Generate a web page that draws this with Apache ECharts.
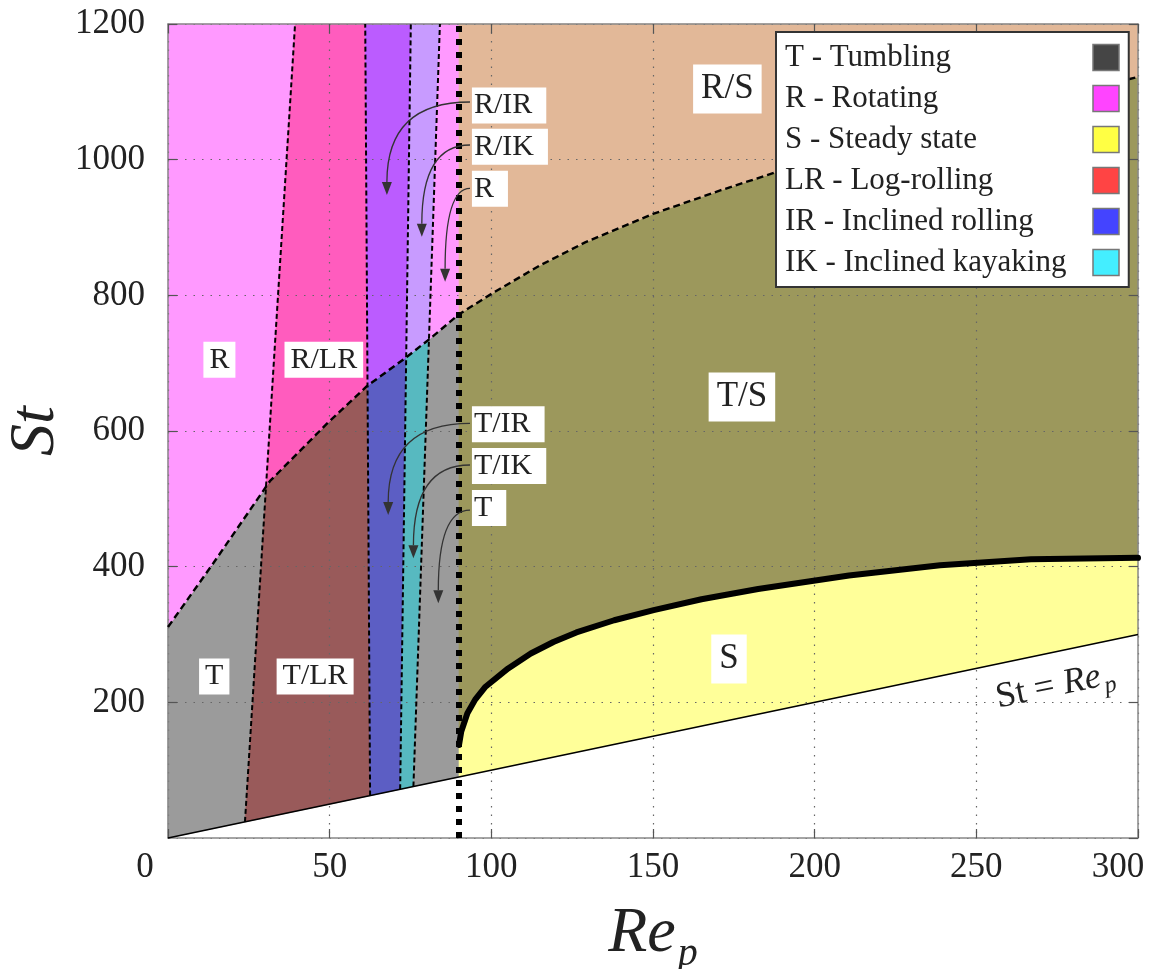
<!DOCTYPE html>
<html><head><meta charset="utf-8">
<script src="https://cdn.jsdelivr.net/npm/echarts@6/dist/echarts.min.js"></script>
<style>html,body{margin:0;padding:0;background:#fff;}#c{width:1169px;height:969px;}</style>
</head><body><div id="c"></div>
<script>
// ---------- data (Re_p, St) ----------
const xTicks = [0, 50, 100, 150, 200, 250, 300];
const yTicks = [0, 200, 400, 600, 800, 1000, 1200];

const reLine = [[0, 0], [300, 300]];              // St = Re_p
const topLine = [[0, 1200], [300, 1200]];
const rtCurve = [[0, 311], [14, 405], [31.5, 526], [49, 610], [61.5, 666], [73.8, 709], [81, 736], [90, 772],
  [101, 805], [115, 844], [129, 878], [150, 920], [171, 955], [189, 983], [200, 999], [250, 1064], [300, 1122]];
const sCurve = [[90, 137], [90.7, 157], [92.6, 184], [95, 204], [98.2, 223], [105.2, 250], [112.2, 272], [119.2, 289],
  [126.3, 303], [138, 321], [150.2, 336], [165, 352], [182.5, 367], [210.6, 387], [238.8, 402], [266.9, 411], [300, 413]];
const criticalRe = 90;
// dividers: Re_p where they meet St = Re_p, and Re_p at St = 1200
const dividerBottom = [23.8, 62.5, 71.8, 75.9];
const dividerTop = [39.3, 61, 75.1, 84.1];

const legendNames = ['T - Tumbling', 'R - Rotating', 'S - Steady state', 'LR - Log-rolling', 'IR - Inclined rolling', 'IK - Inclined kayaking'];
const legendColors = ['#454545', '#ff44ff', '#ffff44', '#ff4444', '#4444ff', '#44eeff'];

const regionNames = ['T', 'R', 'T/LR', 'R/LR', 'T/IR', 'R/IR', 'T/IK', 'R/IK', 'T', 'R', 'S', 'T/S', 'R/S'];
const regionColors = ['#9b9b9b', '#ff99ff', '#995a5a', '#ff5cbe', '#5c5ec4', '#bb5cff', '#57b9c0', '#c89bff',
  '#9b9b9b', '#ff99ff', '#ffff99', '#9c985c', '#e2b898'];

const labelTexts = ['R', 'R/LR', 'T', 'T/LR', 'R/S', 'T/S', 'S'];
const labelAnchors = [[15.9, 705], [48.2, 705], [14.3, 238], [45.5, 238], [173, 1104], [177.5, 650], [173.5, 264]];
const labelBig = [false, false, false, false, true, true, true];

const arrowTexts = ['R/IR', 'R/IK', 'R', 'T/IR', 'T/IK', 'T'];
const arrowFrom = [[93.4, 1085], [93.4, 1021.6], [93.4, 957.8], [93.4, 611.3], [93.4, 549.9], [93.4, 483.5]];
const arrowTo = [[67.7, 948], [78.5, 886.4], [85.7, 820.1], [68.1, 476.2], [75.9, 412.3], [83.6, 346]];
const arrowLabelAnchors = [[94, 1080], [94, 1019], [94, 957], [94, 610], [94, 548.5], [94, 486.5]];

const lineLabelAnchor = [274.4, 224];

// ---------- geometry helpers ----------
function interp(pts, x) {
  if (x <= pts[0][0]) return pts[0][1];
  for (let i = 1; i < pts.length; i++) {
    if (x <= pts[i][0]) {
      const a = pts[i - 1], b = pts[i];
      return a[1] + (b[1] - a[1]) * (x - a[0]) / (b[0] - a[0]);
    }
  }
  return pts[pts.length - 1][1];
}
const yMax = yTicks[yTicks.length - 1];
function mkDiv(b, t) { return { b: b, t: t }; }
function xOn(d, s) { return d.b + (d.t - d.b) * (s - d.b) / (yMax - d.b); }
function solve(d, pts) {
  let s = interp(pts, d.b);
  for (let k = 0; k < 80; k++) s = interp(pts, xOn(d, s));
  return s;
}
function regionPoly(L, R, lower, upper) {
  const sl0 = solve(L, lower), xl0 = xOn(L, sl0);
  const sr0 = solve(R, lower), xr0 = xOn(R, sr0);
  const sl1 = solve(L, upper), xl1 = xOn(L, sl1);
  const sr1 = solve(R, upper), xr1 = xOn(R, sr1);
  const p = [[xl0, sl0]];
  lower.forEach(v => { if (v[0] > xl0 && v[0] < xr0) p.push(v); });
  p.push([xr0, sr0], [xr1, sr1]);
  upper.slice().reverse().forEach(v => { if (v[0] > xl1 && v[0] < xr1) p.push(v); });
  p.push([xl1, sl1]);
  return p;
}
const divs = [mkDiv(xTicks[0], xTicks[0])];
dividerBottom.forEach((b, i) => divs.push(mkDiv(b, dividerTop[i])));
divs.push(mkDiv(criticalRe, criticalRe));
divs.push(mkDiv(xTicks[xTicks.length - 1], xTicks[xTicks.length - 1]));

const regionPolys = [];
for (let i = 0; i < 5; i++) {
  regionPolys.push(regionPoly(divs[i], divs[i + 1], reLine, rtCurve));
  regionPolys.push(regionPoly(divs[i], divs[i + 1], rtCurve, topLine));
}
regionPolys.push(regionPoly(divs[5], divs[6], reLine, sCurve));
regionPolys.push(regionPoly(divs[5], divs[6], sCurve, rtCurve));
regionPolys.push(regionPoly(divs[5], divs[6], rtCurve, topLine));

// ---------- chart ----------
const F = "Liberation Serif, DejaVu Serif, serif";
const TXT = '#222';
const chart = echarts.init(document.getElementById('c'), null, { renderer: 'canvas' });

const baseAxis = {
  type: 'value', z: 3,
  axisLine: { show: true, onZero: false, lineStyle: { color: '#888', width: 1.5 } },
  axisTick: { show: true, inside: true, length: 9, lineStyle: { color: '#555', width: 1.2 } }
};

const lineSeries = [];
function addLine(data, style, z) {
  lineSeries.push({ type: 'line', data: data, showSymbol: false, symbol: 'none', z: z || 4, silent: true,
    smooth: false, lineStyle: style, animation: false, clip: false });
}
addLine(reLine, { color: '#000', width: 1.6, type: 'solid' });
dividerBottom.forEach((b, i) => addLine([[b, b], [dividerTop[i], yMax]], { color: '#000', width: 2, type: [5, 3] }));
addLine(rtCurve, { color: '#000', width: 2.4, type: [7, 4] });
addLine(sCurve, { color: '#000', width: 6, type: 'solid', cap: 'round', join: 'round' });
addLine([[criticalRe, yTicks[0]], [criticalRe, yMax]], { color: '#000', width: 6, type: [6, 7] }, 5);

const option = {
  animation: false,
  backgroundColor: '#fff',
  grid: { left: 168, top: 24, width: 970, height: 814, containLabel: false, outerBoundsMode: 'none' },
  xAxis: [
    Object.assign({}, baseAxis, {
      min: xTicks[0], max: xTicks[xTicks.length - 1], interval: xTicks[1] - xTicks[0], position: 'bottom',
      splitLine: { show: true, lineStyle: { color: '#666', type: [1.5, 7], width: 1.2 } },
      axisLabel: {
        fontFamily: F, fontSize: 35, color: TXT, margin: 12,
        formatter: v => v === xTicks[0] ? '{l|' + v + '}' : (v === xTicks[xTicks.length - 1] ? '{r|' + v + '}' : String(v)),
        rich: {
          l: { fontFamily: F, fontSize: 35, color: TXT, padding: [0, 46, 0, 0] },
          r: { fontFamily: F, fontSize: 35, color: TXT, padding: [0, 40, 0, 0] }
        }
      },
      name: '{a|Re}{b|p}', nameLocation: 'middle', nameGap: 56, nameMoveOverlap: false,
      nameTextStyle: {
        rich: {
          a: { fontFamily: F, fontStyle: 'italic', fontSize: 64, color: TXT },
          b: { fontFamily: F, fontStyle: 'italic', fontSize: 40, color: TXT, padding: [40, 0, 0, 2] }
        }
      }
    }),
    Object.assign({}, baseAxis, {
      min: xTicks[0], max: xTicks[xTicks.length - 1], interval: xTicks[1] - xTicks[0], position: 'top',
      splitLine: { show: false }, axisLabel: { show: false }
    })
  ],
  yAxis: [
    Object.assign({}, baseAxis, {
      min: yTicks[0], max: yMax, interval: yTicks[1] - yTicks[0], position: 'left',
      splitLine: { show: true, lineStyle: { color: '#666', type: [1.5, 7], width: 1.2 } },
      axisLabel: { fontFamily: F, fontSize: 35, color: TXT, margin: 23, showMinLabel: false, formatter: v => String(v) },
      name: 'St', nameLocation: 'middle', nameGap: 100, nameRotate: 90, nameMoveOverlap: false,
      nameTextStyle: { fontFamily: F, fontStyle: 'italic', fontSize: 64, color: TXT }
    }),
    Object.assign({}, baseAxis, {
      min: yTicks[0], max: yMax, interval: yTicks[1] - yTicks[0], position: 'right',
      splitLine: { show: false }, axisLabel: { show: false }
    })
  ],
  legend: {
    orient: 'vertical', left: 776, top: 32, padding: [10, 9, 9, 9], itemGap: 10,
    itemWidth: 26, itemHeight: 26, align: 'right', icon: 'rect',
    backgroundColor: '#fff', borderColor: '#333', borderWidth: 2, borderRadius: 0,
    selectedMode: false, z: 20,
    itemStyle: { borderColor: '#777', borderWidth: 1.5, opacity: 1 },
    formatter: n => '{t|' + n + '}',
    textStyle: { fontFamily: F, fontSize: 31, color: TXT, lineHeight: 26,
      rich: { t: { fontFamily: F, fontSize: 31, color: TXT, width: 303, align: 'left', lineHeight: 26 } } },
    data: legendNames
  },
  series: [
    {
      type: 'custom', name: 'regions', z: 1, silent: true, animation: false,
      data: regionPolys.map((p, i) => [i]),
      encode: { x: 0 },
      renderItem: function (params, api) {
        const i = params.dataIndex;
        const pts = regionPolys[i].map(p => api.coord(p));
        return { type: 'polygon', shape: { points: pts },
          style: { fill: regionColors[i], stroke: regionColors[i], lineWidth: 0.6 } };
      }
    }
  ].concat(lineSeries).concat([
    {
      type: 'custom', name: 'arrows', z: 6, silent: true, animation: false,
      data: arrowFrom.map((p, i) => [i]), encode: { x: 0 },
      renderItem: function (params, api) {
        const i = params.dataIndex;
        const a = api.coord(arrowFrom[i]), b = api.coord(arrowTo[i]);
        const c = [b[0], a[1]];
        let dx = b[0] - c[0], dy = b[1] - c[1];
        const len = Math.sqrt(dx * dx + dy * dy) || 1; dx /= len; dy /= len;
        const hl = 13, hw = 5;
        const base = [b[0] - dx * hl, b[1] - dy * hl];
        return { type: 'group', children: [
          { type: 'bezierCurve', shape: { x1: a[0], y1: a[1], cpx1: c[0], cpy1: c[1], x2: base[0], y2: base[1] },
            style: { stroke: '#333', lineWidth: 1.3, fill: null } },
          { type: 'polygon', shape: { points: [b, [base[0] - dy * hw, base[1] + dx * hw], [base[0] + dy * hw, base[1] - dx * hw]] },
            style: { fill: '#333' } }
        ] };
      }
    },
    {
      type: 'custom', name: 'arrowLabels', z: 7, silent: true, animation: false,
      data: arrowTexts.map((t, i) => [i]), encode: { x: 0 },
      renderItem: function (params, api) {
        const i = params.dataIndex;
        const p = api.coord(arrowLabelAnchors[i]);
        return { type: 'text', x: p[0], y: p[1],
          style: { text: arrowTexts[i], fontFamily: F, fontSize: 30, fill: TXT, align: 'left', verticalAlign: 'middle',
            backgroundColor: '#fff', padding: [3, 14, 3, 2] } };
      }
    },
    {
      type: 'custom', name: 'regionLabels', z: 7, silent: true, animation: false,
      data: labelTexts.map((t, i) => [i]), encode: { x: 0 },
      renderItem: function (params, api) {
        const i = params.dataIndex;
        const p = api.coord(labelAnchors[i]);
        const big = labelBig[i];
        return { type: 'text', x: p[0], y: p[1],
          style: { text: labelTexts[i], fontFamily: F, fontSize: big ? 35 : 30, fill: TXT, align: 'center', verticalAlign: 'middle',
            backgroundColor: '#fff', padding: big ? [7, 8] : [3, 6] } };
      }
    },
    {
      type: 'custom', name: 'lineLabel', z: 7, silent: true, animation: false,
      data: [[0]], encode: { x: 0 },
      renderItem: function (params, api) {
        const p = api.coord(lineLabelAnchor);
        const a = api.coord(reLine[0]), b = api.coord(reLine[1]);
        const ang = Math.atan2(a[1] - b[1], b[0] - a[0]);
        return { type: 'text', x: p[0], y: p[1], rotation: ang,
          style: { text: '{n|St = }{i|Re}{s|p}', align: 'center', verticalAlign: 'middle',
            rich: {
              n: { fontFamily: F, fontSize: 36, fill: TXT },
              i: { fontFamily: F, fontSize: 36, fontStyle: 'italic', fill: TXT },
              s: { fontFamily: F, fontSize: 24, fontStyle: 'italic', fill: TXT, padding: [22, 0, 0, 2] }
            } } };
      }
    }
  ]).concat(legendNames.map((n, i) => ({ type: 'scatter', name: n, data: [], itemStyle: { color: legendColors[i], opacity: 1 } })))
};
chart.setOption(option);
</script>
</body></html>
